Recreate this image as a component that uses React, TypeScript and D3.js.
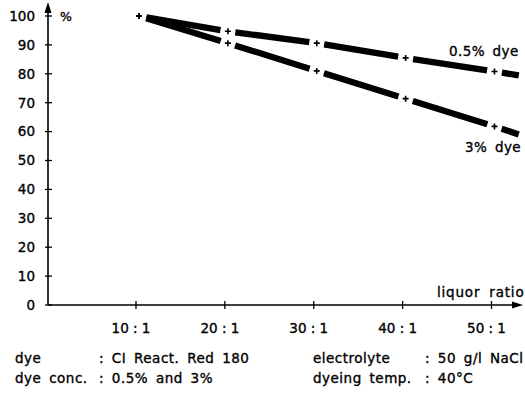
import React, { useEffect, useRef } from "react";
import * as d3 from "d3";

// liquor ratio (x:1) and dye exhaustion in %
const ratios = [10, 20, 30, 40, 50];
const ratioLabels = ["10 : 1", "20 : 1", "30 : 1", "40 : 1", "50 : 1"];
const yTicks = [0, 10, 20, 30, 40, 50, 60, 70, 80, 90, 100];
const lowDye = [100, 94.7, 90.6, 85.5, 80.8]; // 0.5% dye
const highDye = [100, 90.6, 81.0, 71.4, 61.8]; // 3% dye
const seriesNames = ["0.5% dye", "3% dye"];

const notesLeft = [
  ["dye", ": CI React. Red 180"],
  ["dye conc.", ": 0.5% and 3%"],
];
const notesRight = [
  ["electrolyte", ": 50 g/l NaCl"],
  ["dyeing temp.", ": 40°C"],
];

const W = 525;
const H = 395;
const FONT = "'DejaVu Sans', sans-serif";

const App = () => {
  const ref = useRef<SVGSVGElement>(null);

  useEffect(() => {
    const svg = d3.select(ref.current).attr("width", W).attr("height", H);
    svg.selectAll("*").remove();

    const x = d3.scaleLinear().domain([10, 50]).range([137.5, 493]);
    const y = d3.scaleLinear().domain([0, 100]).range([305, 16]);
    const x0 = 48;
    const xEnd = 523;
    const ink = "#000";

    // slightly heavier text, like the printed original
    const txt = (sel: any, size: number) =>
      sel
        .attr("font-family", FONT)
        .attr("font-size", size)
        .attr("fill", ink)
        .attr("stroke", ink)
        .attr("stroke-width", 0.35);

    // y axis with arrow
    svg.append("line")
      .attr("x1", x0).attr("x2", x0)
      .attr("y1", y(0)).attr("y2", 8)
      .attr("stroke", ink).attr("stroke-width", 1.6);
    svg.append("path")
      .attr("d", `M${x0},2 L${x0 - 3.5},13 L${x0 + 3.5},13 Z`)
      .attr("fill", ink);

    // x axis with arrow
    svg.append("line")
      .attr("x1", x0).attr("x2", xEnd - 6)
      .attr("y1", y(0)).attr("y2", y(0))
      .attr("stroke", ink).attr("stroke-width", 1.6);
    svg.append("path")
      .attr("d", `M${xEnd},${y(0)} L${xEnd - 11},${y(0) - 3.5} L${xEnd - 11},${y(0) + 3.5} Z`)
      .attr("fill", ink);

    // y ticks
    const yt = svg.append("g");
    yt.selectAll("line")
      .data(yTicks)
      .join("line")
      .attr("x1", x0 - 3).attr("x2", x0 + 4)
      .attr("y1", (d) => y(d)).attr("y2", (d) => y(d))
      .attr("stroke", ink).attr("stroke-width", 1.3);
    txt(
      yt.selectAll("text")
        .data(yTicks)
        .join("text")
        .attr("x", 35)
        .attr("y", (d) => y(d))
        .attr("dy", "0.36em")
        .attr("text-anchor", "end")
        .text((d) => d),
      13.5
    );

    txt(svg.append("text").attr("x", 60).attr("y", y(100)).attr("dy", "0.36em").text("%"), 12.5);

    // x ticks
    const xt = svg.append("g");
    xt.selectAll("line")
      .data(ratios)
      .join("line")
      .attr("x1", (d) => x(d) - 1.5).attr("x2", (d) => x(d) - 1.5)
      .attr("y1", y(0) - 4).attr("y2", y(0) + 4)
      .attr("stroke", ink).attr("stroke-width", 1.3);
    txt(
      xt.selectAll("text")
        .data(ratios)
        .join("text")
        .attr("x", (d) => x(d) - 6.5)
        .attr("y", 333)
        .attr("text-anchor", "middle")
        .attr("xml:space", "preserve")
        .text((d, i) => ratioLabels[i]),
      13.5
    );

    txt(
      svg.append("text")
        .attr("x", 437).attr("y", 297)
        .attr("letter-spacing", 0.8)
        .attr("word-spacing", 4)
        .text("liquor ratio"),
      13.5
    );

    // series: thick broken segments between + markers
    const gap = 7.5;
    const extendTo = 52.9;
    [lowDye, highDye].forEach((vals) => {
      const pts = ratios.map((r, i) => [x(r) + 1.5, y(vals[i])]);
      const last = pts.length - 1;
      const slope = (vals[last] - vals[last - 1]) / (ratios[last] - ratios[last - 1]);
      const endPt = [x(extendTo), y(vals[last] + slope * (extendTo - ratios[last]))];
      const segs: any[] = pts.slice(0, last).map((p, i) => [p, pts[i + 1], true]);
      segs.push([pts[last], endPt, false]);
      const g = svg.append("g");
      segs.forEach(([a, b, trimEnd]: any) => {
        const dx = b[0] - a[0];
        const dy = b[1] - a[1];
        const len = Math.hypot(dx, dy);
        const ux = dx / len;
        const uy = dy / len;
        const e = trimEnd ? gap : 0;
        g.append("line")
          .attr("x1", a[0] + ux * gap).attr("y1", a[1] + uy * gap)
          .attr("x2", b[0] - ux * e).attr("y2", b[1] - uy * e)
          .attr("stroke", ink)
          .attr("stroke-width", 6.3);
      });
      g.selectAll("path.plus")
        .data(pts)
        .join("path")
        .attr("class", "plus")
        .attr("d", (p) => `M${p[0] - 3},${p[1]} h6 M${p[0]},${p[1] - 3} v6`)
        .attr("stroke", ink)
        .attr("stroke-width", 1.6);
    });

    // series labels
    txt(
      svg.append("text")
        .attr("x", 449).attr("y", 56)
        .attr("letter-spacing", 0.4)
        .attr("word-spacing", 3)
        .text(seriesNames[0]),
      13.5
    );
    txt(
      svg.append("text")
        .attr("x", 465).attr("y", 152)
        .attr("letter-spacing", 0.4)
        .attr("word-spacing", 3)
        .text(seriesNames[1]),
      13.5
    );

    // notes below the chart
    const notes = txt(
      svg.append("g").attr("letter-spacing", 0.5).attr("word-spacing", 3),
      13.5
    );
    notesLeft.forEach(([k, v], i) => {
      notes.append("text").attr("x", 15).attr("y", 363 + i * 20).text(k);
      notes.append("text").attr("x", 99).attr("y", 363 + i * 20).text(v);
    });
    notesRight.forEach(([k, v], i) => {
      notes.append("text").attr("x", 313).attr("y", 363 + i * 20).text(k);
      notes.append("text").attr("x", 425).attr("y", 363 + i * 20).text(v);
    });
  }, []);

  return <svg ref={ref} style={{ position: "absolute", left: 0, top: 0 }} />;
};

export default App;
